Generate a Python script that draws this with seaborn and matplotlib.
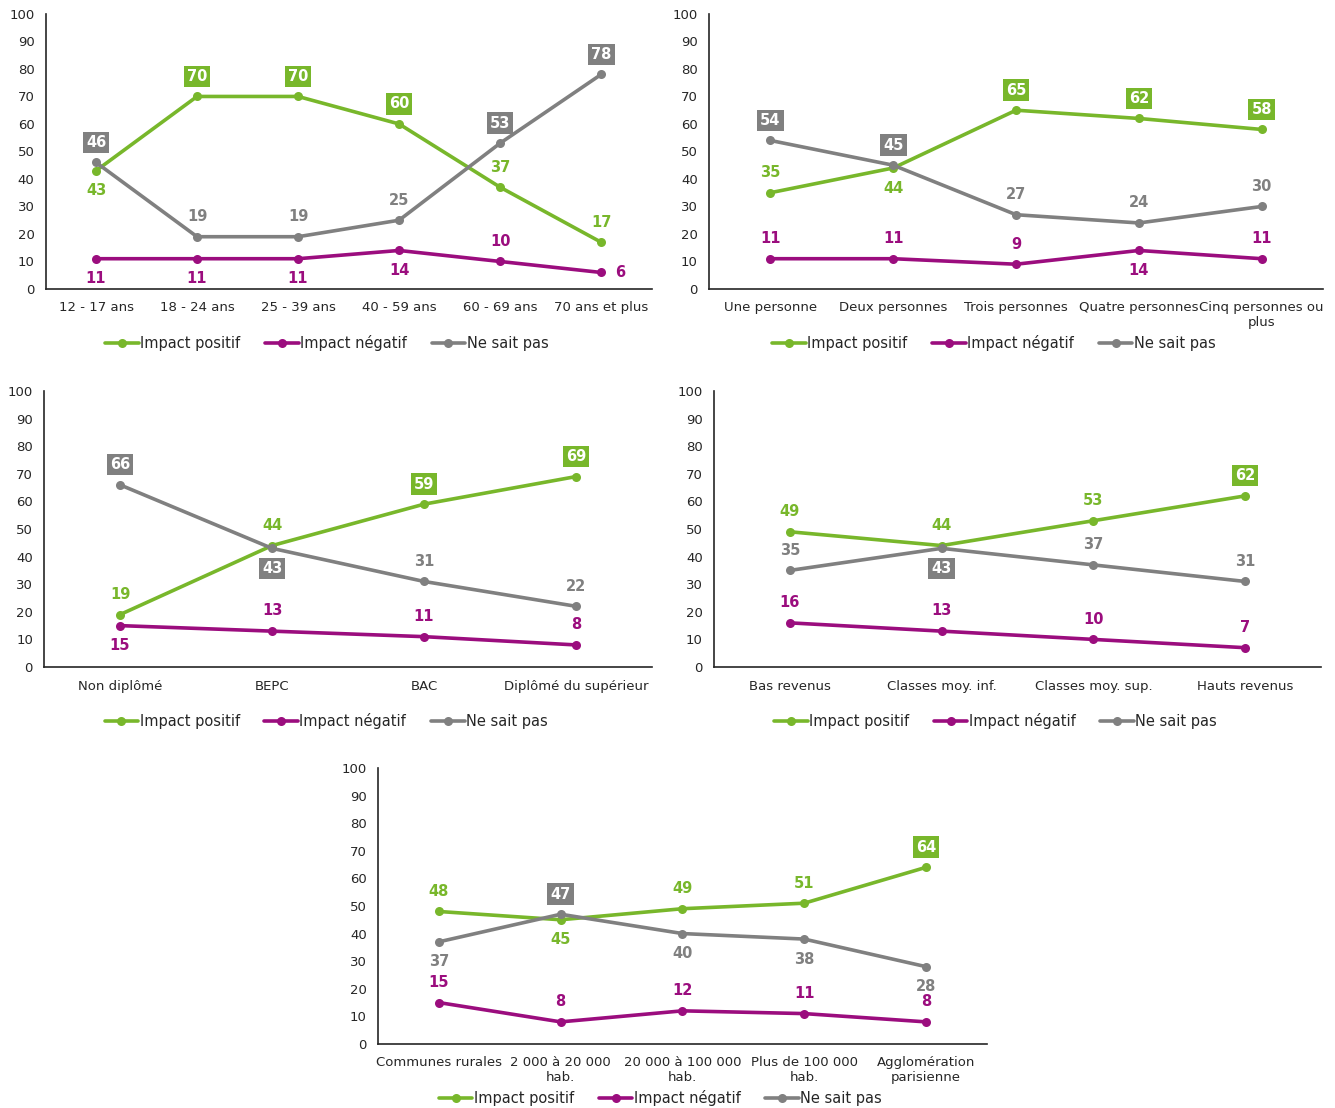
import pandas as pd
import matplotlib.pyplot as plt
import seaborn as sns

# Séries et couleurs
series = ['Impact positif', 'Impact négatif', 'Ne sait pas']
colors = ['#78B72B', '#9B0D7E', '#808080']

# Panneau 1 : âge
age_cats = ['12 - 17 ans', '18 - 24 ans', '25 - 39 ans', '40 - 59 ans', '60 - 69 ans', '70 ans et plus']
age_pos = [43, 70, 70, 60, 37, 17]
age_neg = [11, 11, 11, 14, 10, 6]
age_nsp = [46, 19, 19, 25, 53, 78]

# Panneau 2 : taille du foyer
foyer_cats = ['Une personne', 'Deux personnes', 'Trois personnes', 'Quatre personnes', 'Cinq personnes ou\nplus']
foyer_pos = [35, 44, 65, 62, 58]
foyer_neg = [11, 11, 9, 14, 11]
foyer_nsp = [54, 45, 27, 24, 30]

# Panneau 3 : diplôme
dipl_cats = ['Non diplômé', 'BEPC', 'BAC', 'Diplômé du supérieur']
dipl_pos = [19, 44, 59, 69]
dipl_neg = [15, 13, 11, 8]
dipl_nsp = [66, 43, 31, 22]

# Panneau 4 : revenus
rev_cats = ['Bas revenus', 'Classes moy. inf.', 'Classes moy. sup.', 'Hauts revenus']
rev_pos = [49, 44, 53, 62]
rev_neg = [16, 13, 10, 7]
rev_nsp = [35, 43, 37, 31]

# Panneau 5 : taille d'agglomération
agglo_cats = ['Communes rurales', '2 000 à 20 000\nhab.', '20 000 à 100 000\nhab.',
              'Plus de 100 000\nhab.', 'Agglomération\nparisienne']
agglo_pos = [48, 45, 49, 51, 64]
agglo_neg = [15, 8, 12, 11, 8]
agglo_nsp = [37, 47, 40, 38, 28]

# Placement des étiquettes (a = dessus, b = dessous, r = droite) et encadrés
age_place = ['baaaaa', 'bbbbar', 'aaaaaa']
age_box = [[0, 1, 1, 1, 0, 0], [0] * 6, [1, 0, 0, 0, 1, 1]]
foyer_place = ['abaaa', 'aaaba', 'aaaaa']
foyer_box = [[0, 0, 1, 1, 1], [0] * 5, [1, 1, 0, 0, 0]]
dipl_place = ['aaaa', 'baaa', 'abaa']
dipl_box = [[0, 0, 1, 1], [0] * 4, [1, 1, 0, 0]]
rev_place = ['aaaa', 'aaaa', 'abaa']
rev_box = [[0, 0, 0, 1], [0] * 4, [0, 1, 0, 0]]
agglo_place = ['abaaa', 'aaaaa', 'babbb']
agglo_box = [[0, 0, 0, 0, 1], [0] * 5, [0, 1, 0, 0, 0]]

panels = [
    (age_cats, [age_pos, age_neg, age_nsp], age_place, age_box, [0.0341, 0.7392, 0.4540, 0.2482]),
    (foyer_cats, [foyer_pos, foyer_neg, foyer_nsp], foyer_place, foyer_box, [0.5311, 0.7392, 0.4600, 0.2482]),
    (dipl_cats, [dipl_pos, dipl_neg, dipl_nsp], dipl_place, dipl_box, [0.0330, 0.3980, 0.4554, 0.2491]),
    (rev_cats, [rev_pos, rev_neg, rev_nsp], rev_place, rev_box, [0.5348, 0.3980, 0.4547, 0.2491]),
    (agglo_cats, [agglo_pos, agglo_neg, agglo_nsp], agglo_place, agglo_box, [0.2831, 0.0578, 0.4562, 0.2491]),
]

sns.set_style('white')
plt.rcParams['font.family'] = ['DejaVu Sans']

fig = plt.figure(figsize=(13.35, 11.08), dpi=100)
offsets = {'a': (0, 14.5), 'b': (0, -14.5), 'r': (14, 0)}

for cats, vals, place, box, rect in panels:
    ax = fig.add_axes(rect)
    n = len(cats)
    rows = []
    for s, v in zip(series, vals):
        for i, y in enumerate(v):
            rows.append({'x': i, 'valeur': y, 'serie': s})
    df = pd.DataFrame(rows)
    sns.lineplot(data=df, x='x', y='valeur', hue='serie', hue_order=series,
                 palette=colors, marker='o', markersize=6.5, markeredgewidth=0,
                 linewidth=2.6, sort=False, ax=ax)

    # Étiquettes de données
    for k, (s, v) in enumerate(zip(series, vals)):
        for i, y in enumerate(v):
            dx, dy = offsets[place[k][i]]
            if box[k][i]:
                ax.annotate(str(y), (i, y), xytext=(dx, dy), textcoords='offset points',
                            ha='center', va='center', fontsize=10.5, fontweight='bold',
                            color='white',
                            bbox=dict(boxstyle='square,pad=0.22', fc=colors[k], ec='none'))
            else:
                ax.annotate(str(y), (i, y), xytext=(dx, dy), textcoords='offset points',
                            ha='center', va='center', fontsize=10.5, fontweight='bold',
                            color=colors[k])

    ax.set_xlim(-0.5, n - 0.5)
    ax.set_ylim(0, 100)
    ax.set_yticks(range(0, 101, 10))
    ax.set_xticks(range(n))
    ax.set_xticklabels(cats, fontsize=9.5, multialignment='center', color='#262626')
    ax.set_xticks([i + 0.5 for i in range(n)], minor=True)
    ax.tick_params(axis='x', which='major', length=0, pad=9)
    ax.tick_params(axis='x', which='minor', length=5, width=1, direction='out', color='#262626')
    ax.tick_params(axis='y', length=5, width=1, direction='out', labelsize=9.5, pad=3,
                   color='#262626', labelcolor='#262626')
    ax.set_xlabel('')
    ax.set_ylabel('')
    sns.despine(ax=ax)
    for sp in ['left', 'bottom']:
        ax.spines[sp].set_color('#262626')
        ax.spines[sp].set_linewidth(1.2)

    # légende centrée sur la zone du graphique (axe des y compris)
    ax.legend(loc='upper center', bbox_to_anchor=(0.464, -0.145), ncol=3, frameon=False,
              fontsize=10.5, handlelength=2.3, handletextpad=0.1, columnspacing=1.7,
              borderaxespad=0)

fig.savefig('out.png', dpi=100, facecolor='white')
